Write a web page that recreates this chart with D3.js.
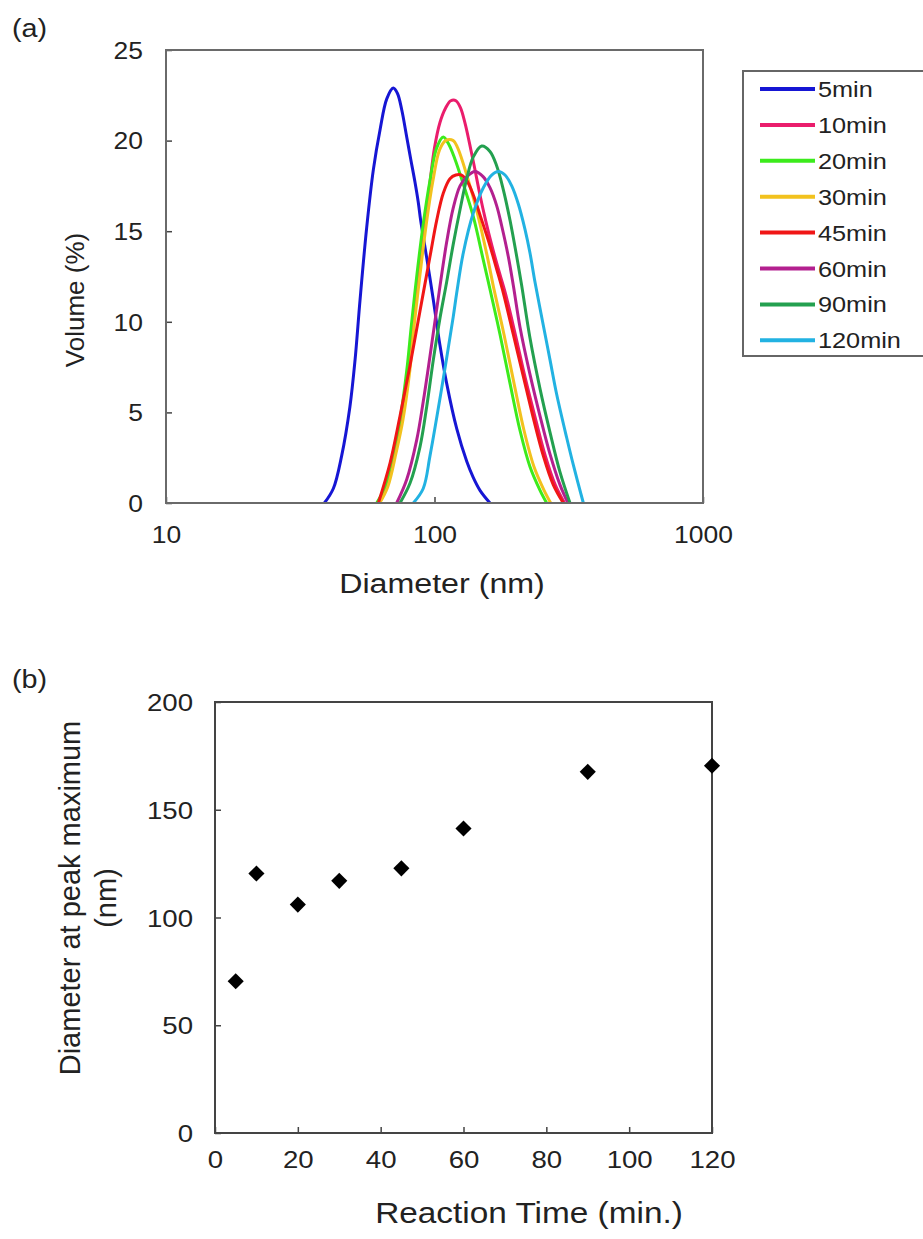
<!DOCTYPE html>
<html lang="en">
<head>
    <meta charset="UTF-8">
    <title>Particle size distribution</title>
    <script src="https://d3js.org/d3.v7.min.js"></script>
    <style>
        body {margin: 0; background: white;}
        text {font-family: "Liberation Sans", Arial, sans-serif; fill: #222;}
    </style>
</head>
<body>
<script>
    const width = 923;
    const height = 1239;
    const sx = 1.15; // the original lettering is a bit wide

    // (a) volume distributions, [diameter nm, volume %]
    const min5 = [[38.9,0],[42,0.8],[45.1,2.6],[48.4,5.3],[50.6,7.9],[52.8,11.2],[55.9,15.2],[59.2,18.4],[62.7,20.6],[66.4,22.3],[70.2,22.9],[72.8,22.6],[75.5,21.7],[78.8,20.2],[81.5,19.0],[84.6,17.7],[87,16.6],[88.8,15.6],[92.2,14.1],[96.2,12.4],[99,11.2],[104.8,8.7],[111,6.6],[121,4.1],[131.8,2.3],[139.5,1.4],[147.7,0.7],[160.9,0]];
    const min10 = [[62.5,0],[70,2.3],[75,4.6],[80,7.5],[84,10.3],[88,13.0],[92,15.4],[96,17.6],[100,19.6],[104.8,21.0],[110,21.8],[115,22.2],[120.2,22.2],[125,21.8],[129.7,21.0],[134.8,19.9],[140.6,18.6],[147.7,17.0],[155,15.6],[163.6,14.2],[173,12.9],[183.5,11.6],[200,9.3],[217.7,6.9],[237.3,4.7],[258.7,2.6],[281.7,1.0],[305,0]];
    const min20 = [[60.9,0],[65,0.8],[70.2,2.8],[74.4,4.6],[78.8,7.3],[82,9.8],[86,12.6],[90.8,15.4],[96.2,17.8],[101.9,19.6],[107.8,20.2],[113,19.8],[119,19.0],[128,17.6],[139.5,15.8],[152,13.4],[160.9,11.8],[175.4,9.3],[191.1,6.6],[208.2,4.0],[226.8,2.0],[247.2,0.7],[261.7,0]];
    const min30 = [[62.5,0],[67,0.9],[72,2.8],[76.3,4.6],[80.9,7.3],[84,9.8],[88.3,12.6],[93.2,15.4],[98.7,17.8],[104.5,19.5],[110,20.0],[117.5,20.0],[122,19.6],[132.5,18.0],[144.4,16.0],[157.3,13.6],[166.5,11.8],[181.5,9.3],[197.8,6.6],[215.5,4.0],[234.7,2.0],[255.9,0.7],[270.9,0]];
    const min45 = [[61.8,0],[68.3,2.2],[74.4,4.8],[81.1,7.6],[88.3,10.6],[96.2,13.6],[101.9,15.6],[107.8,17.1],[114.2,17.9],[120,18.1],[126,18.1],[131.8,17.8],[139.5,17.0],[147.7,15.9],[160.9,14.2],[170.5,12.9],[180.4,11.6],[196.6,9.3],[214.1,7.0],[233.3,4.7],[254.3,2.6],[277,1.0],[301.8,0]];
    const min60 = [[72.3,0],[78.8,1.3],[85.9,3.5],[90.8,5.6],[96.2,8.1],[101.9,10.7],[111,14.4],[117.5,16.3],[124.5,17.5],[131.8,18.0],[141.5,18.3],[152,18.0],[160.9,17.4],[170.5,16.4],[177.9,15.3],[188.3,13.6],[196.6,12.0],[208.2,9.7],[226.8,7.1],[247.2,4.8],[269.3,2.7],[293.4,1.0],[314.2,0]];
    const min90 = [[74.4,0],[81.1,1.1],[88.3,3.1],[93.5,5.3],[99,7.9],[104.8,10.2],[111,12.2],[117.5,14.3],[124.5,16.2],[131.8,17.9],[139.5,19.1],[149.9,19.7],[160.9,19.4],[170.5,18.6],[180.4,17.3],[191.1,15.6],[202.4,13.6],[211.2,12.0],[226.8,9.1],[247.2,6.3],[269.3,3.9],[293.4,1.7],[319.6,0]];
    const min120 = [[83.4,0],[90.8,0.8],[96.2,2.6],[101.9,4.7],[111,8.0],[117.5,10.3],[121,11.6],[128,13.8],[139.5,16.0],[152,17.4],[163.3,18.1],[172.9,18.3],[183.1,18.1],[193.9,17.5],[205.2,16.5],[217.3,15.1],[226.8,13.8],[236.7,12.2],[254.3,9.8],[269.3,7.9],[285.1,6.0],[310.7,3.6],[328.9,2.1],[358.4,0]];

    const seriesNames = ["5min","10min","20min","30min","45min","60min","90min","120min"];
    const seriesData = [min5, min10, min20, min30, min45, min60, min90, min120];
    const seriesColors = ["#1616d4","#ea1d6c","#3ceb1c","#f2c21e","#f01616","#b3208f","#23a04f","#22b2e2"];

    const volTicks = [0,5,10,15,20,25];
    const diamTicks = [10,100,1000];

    // (b) diameter at peak maximum
    const reactionTime = [5,10,20,30,45,60,90,120];
    const peakDiameter = [70.4,120.4,106,117,122.8,141.3,167.6,170.4];
    const timeTicks = [0,20,40,60,80,100,120];
    const peakTicks = [0,50,100,150,200];

    const svg = d3.select("body").append("svg")
            .attr("width", width).attr("height", height);

    function label(g, x, y, str, size, anchor, rot) {
        return g.append("text")
                .attr("transform", rot
                    ? `translate(${x},${y}) rotate(-90)`
                    : `translate(${x},${y}) scale(${sx},1)`)
                .attr("text-anchor", anchor || "middle")
                .style("font-size", size + "px")
                .text(str);
    }

    function frame(g, x0, y0, x1, y1, colour) {
        g.append("rect")
                .attr("x", x0).attr("y", y0)
                .attr("width", x1 - x0).attr("height", y1 - y0)
                .style("fill", "none")
                .style("stroke", colour)
                .style("stroke-width", 2);
    }

    function styleAxis(ax, size) {
        ax.select(".domain").remove();
        ax.selectAll("line").style("stroke", "#444").style("stroke-width", 1.5);
        ax.selectAll("text")
                .attr("transform", `scale(${sx},1)`)
                .style("font-size", size + "px")
                .style("font-family", "Liberation Sans, Arial, sans-serif")
                .style("fill", "#222");
    }

    // ---------- panel (a)
    const a = {left: 166, right: 703, top: 50, bottom: 503};

    const x = d3.scaleLog().domain([10, 1000]).range([a.left, a.right]);
    const y = d3.scaleLinear().domain([0, 25]).range([a.bottom, a.top]);

    const gA = svg.append("g");

    const yAxisA = gA.append("g")
            .attr("transform", `translate(${a.left},0)`)
            .call(d3.axisLeft(y).tickValues(volTicks).tickSizeInner(-6).tickSizeOuter(0).tickPadding(23 / sx));
    const xAxisA = gA.append("g")
            .attr("transform", `translate(0,${a.bottom})`)
            .call(d3.axisBottom(x).tickValues(diamTicks).tickFormat(d3.format("d")).tickSizeInner(-6).tickSizeOuter(0).tickPadding(24));
    styleAxis(yAxisA, 23);
    styleAxis(xAxisA, 23);
    yAxisA.selectAll("text").attr("dy", "0.36em");

    const line = d3.line()
            .x(d => x(d[0]))
            .y(d => y(d[1]))
            .curve(d3.curveCatmullRom.alpha(0.5));

    gA.selectAll("path.curve")
            .data(seriesData)
            .enter()
            .append("path")
            .attr("class", "curve")
            .attr("d", line)
            .style("fill", "none")
            .style("stroke", (d, i) => seriesColors[i])
            .style("stroke-width", 3)
            .style("stroke-linejoin", "round");

    frame(gA, a.left, a.top, a.right, a.bottom, "#6a6a6a");

    label(gA, 442, 593, "Diameter (nm)", 28);
    label(gA, 84, 300, "Volume (%)", 26, "middle", true);
    label(svg, 12, 37, "(a)", 25, "start");

    // legend
    const legend = gA.append("g");
    legend.append("rect")
            .attr("x", 743).attr("y", 71)
            .attr("width", 200).attr("height", 285)
            .style("fill", "white")
            .style("stroke", "#666")
            .style("stroke-width", 2);

    const rows = legend.selectAll("g.entry")
            .data(seriesNames)
            .enter()
            .append("g")
            .attr("class", "entry")
            .attr("transform", (d, i) => `translate(0,${89 + i * 35.9})`);
    rows.append("line")
            .attr("x1", 760).attr("x2", 815)
            .style("stroke", (d, i) => seriesColors[i])
            .style("stroke-width", 4);
    rows.append("text")
            .attr("transform", `translate(818,8) scale(${sx},1)`)
            .style("font-size", "22px")
            .text(d => d);

    // ---------- panel (b)
    const b = {left: 215, right: 712, top: 702, bottom: 1133};

    const xb = d3.scaleLinear().domain([0, 120]).range([b.left, b.right]);
    const yb = d3.scaleLinear().domain([0, 200]).range([b.bottom, b.top]);

    const gB = svg.append("g");

    const yAxisB = gB.append("g")
            .attr("transform", `translate(${b.left},0)`)
            .call(d3.axisLeft(yb).tickValues(peakTicks).tickSizeInner(-6).tickSizeOuter(0).tickPadding(22 / sx));
    const xAxisB = gB.append("g")
            .attr("transform", `translate(0,${b.bottom})`)
            .call(d3.axisBottom(xb).tickValues(timeTicks).tickSizeInner(-6).tickSizeOuter(0).tickPadding(18));
    styleAxis(yAxisB, 24);
    styleAxis(xAxisB, 24);
    yAxisB.selectAll("text").attr("dy", "0.36em");

    frame(gB, b.left, b.top, b.right, b.bottom, "#444");

    gB.selectAll("path.point")
            .data(reactionTime)
            .enter()
            .append("path")
            .attr("class", "point")
            .attr("d", d3.symbol(d3.symbolSquare, 130))
            .attr("transform", (d, i) => `translate(${xb(d)},${yb(peakDiameter[i])}) rotate(45)`)
            .style("fill", "black");

    label(gB, 529, 1223, "Reaction Time (min.)", 29);
    label(gB, 80, 898, "Diameter at peak maximum", 29, "middle", true);
    label(gB, 116, 898, "(nm)", 29, "middle", true);
    label(svg, 12, 688, "(b)", 25, "start");
</script>
</body>
</html>
